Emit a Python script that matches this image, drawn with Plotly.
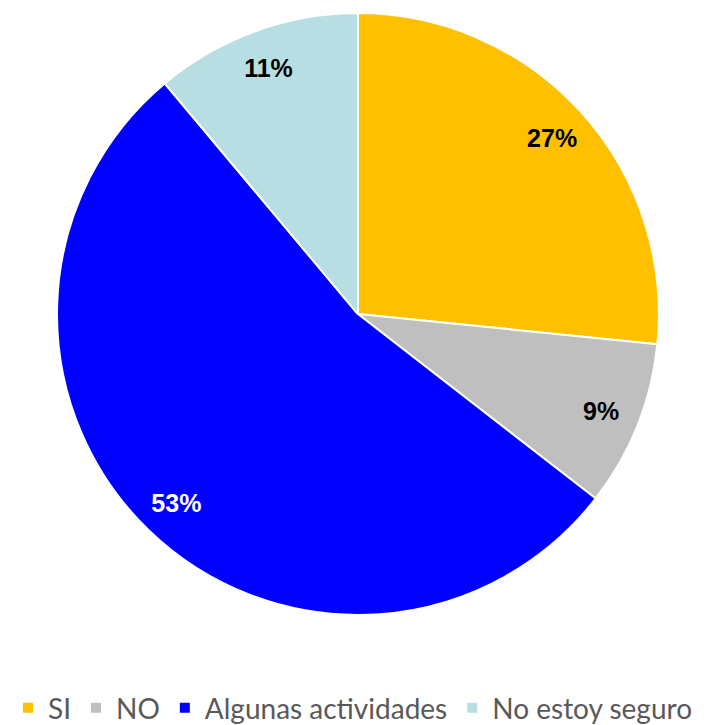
import plotly.graph_objects as go

labels = ["SI", "NO", "Algunas actividades", "No estoy seguro"]
values = [26.6, 8.9, 53.4, 11.1]
colors = ["#FFC000", "#BFBFBF", "#0000FF", "#B7DEE2"]
text_colors = ["#000000", "#000000", "#FFFFFF", "#000000"]

dom = dict(x=[0.0677, 0.899], y=[0.1627, 0.9931])

fig = go.Figure()
# Filled slices with legend
fig.add_trace(go.Pie(
    labels=labels, values=values, sort=False, direction="clockwise", rotation=0,
    marker=dict(colors=colors, line=dict(color="#FFFFFF", width=2)),
    textinfo="none", domain=dom, showlegend=True, hoverinfo="label+percent",
))
# Transparent ring carrying the percentage labels near the outer edge
fig.add_trace(go.Pie(
    labels=labels, values=values, sort=False, direction="clockwise", rotation=0,
    hole=0.74,
    marker=dict(colors=["rgba(0,0,0,0)"] * 4, line=dict(width=0)),
    texttemplate="%{percent:.0%}", textposition="inside",
    insidetextorientation="horizontal",
    textfont=dict(family="Liberation Sans", size=25, color=text_colors, weight="bold"),
    domain=dom, showlegend=False, hoverinfo="skip",
))
fig.update_layout(
    width=724, height=725, margin=dict(l=0, r=0, t=0, b=0),
    paper_bgcolor="white", plot_bgcolor="white",
    legend=dict(orientation="h", x=0.0, xanchor="left", y=0.0, yanchor="bottom",
                font=dict(family="Lato", size=28, color="#595959"),
                itemwidth=30, tracegroupgap=0),
    uniformtext=dict(minsize=25, mode="show"),
)
fig.write_html("out.html")
